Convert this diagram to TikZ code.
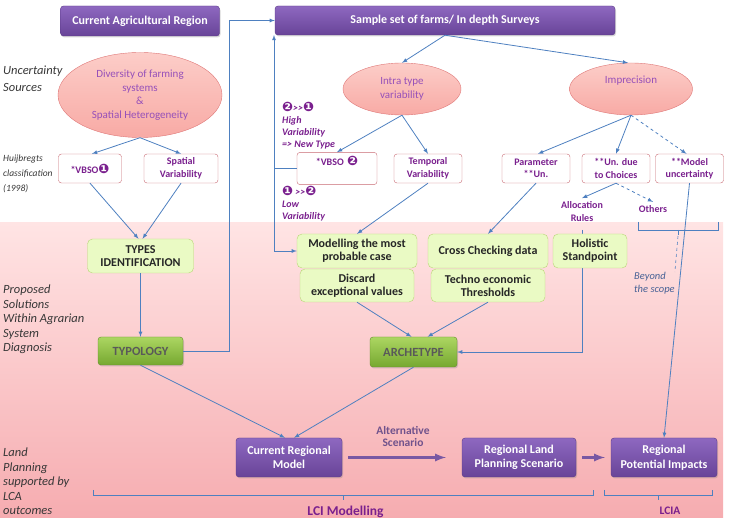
\documentclass[tikz,border=0pt]{standalone}
\usepackage{fontspec}
\setmainfont{Carlito}
\newfontfamily\dingfont{DejaVu Sans}
\usetikzlibrary{arrows, shapes, shadows, calc}
\definecolor{violettop}{RGB}{142,104,192}
\definecolor{violetbot}{RGB}{104,68,152}
\definecolor{violetline}{RGB}{90,58,135}
\definecolor{salmonfill}{RGB}{248,170,165}
\definecolor{salmontop}{RGB}{252,205,200}
\definecolor{salmonline}{RGB}{222,118,118}
\definecolor{plum}{RGB}{122,32,142}
\definecolor{lilac}{RGB}{150,80,185}
\definecolor{linkblue}{RGB}{78,128,192}
\definecolor{leaffill}{RGB}{234,250,196}
\definecolor{leafline}{RGB}{184,214,118}
\definecolor{olivetop}{RGB}{172,214,98}
\definecolor{olivebot}{RGB}{118,168,48}
\definecolor{oliveline}{RGB}{98,140,40}
\definecolor{boxred}{RGB}{200,104,114}
\definecolor{pinktop}{RGB}{255,228,228}
\definecolor{pinkbot}{RGB}{246,172,176}
\definecolor{greylab}{RGB}{55,55,55}
\definecolor{scopeblue}{RGB}{72,98,150}
\definecolor{altgrey}{RGB}{112,82,140}
\newcommand{\dnum}[1]{{\dingfont\fontsize{13}{12}\selectfont\color{plum}#1}}

\begin{document}
\begin{tikzpicture}[x=1pt, y=-1pt]
	\tikzstyle{region}=[rectangle, rounded corners=3pt, draw=violetline, top color=violettop, bottom color=violetbot, text=white, align=center, font=\fontsize{12}{14.5}\selectfont\bfseries, drop shadow={opacity=0.3, shadow xshift=1pt, shadow yshift=-1.5pt}]
	\tikzstyle{source}=[ellipse, draw=salmonline, top color=salmontop, bottom color=salmonfill, text=lilac, align=center, inner sep=0pt, font=\fontsize{11}{13.5}\selectfont]
	\tikzstyle{class}=[rectangle, rounded corners=3pt, draw=boxred, fill=white, text=plum, align=center, minimum height=29, font=\fontsize{10}{12.5}\selectfont\bfseries]
	\tikzstyle{solution}=[rectangle, rounded corners=5pt, draw=leafline, fill=leaffill, text=black!85, align=center, font=\fontsize{12}{13}\selectfont\bfseries]
	\tikzstyle{result}=[rectangle, rounded corners=3pt, draw=oliveline, top color=olivetop, bottom color=olivebot, text=black!65, align=center, font=\fontsize{12.5}{13}\selectfont\bfseries, drop shadow={opacity=0.3, shadow xshift=1pt, shadow yshift=-1.5pt}]
	\tikzstyle{note}=[text=plum, align=left, anchor=north west, inner sep=0pt, font=\fontsize{10}{12}\selectfont\bfseries\itshape]
	\tikzstyle{sidelab}=[text=greylab, align=left, anchor=north west, inner sep=0pt, font=\fontsize{12.5}{16.5}\selectfont\itshape]
	\tikzstyle{connect}=[-latex, linkblue, line width=0.8pt]
	\tikzstyle{link}=[linkblue, line width=0.8pt]
	\tikzstyle{flow}=[-latex, violettop!85!black, line width=2.6pt]
	\useasboundingbox (0,0) rectangle (729,518);
	% pink band of solutions
	\shade[top color=pinktop, bottom color=pinkbot] (0,223) rectangle (723,518);
	% side labels
	\node[sidelab] (lab-unc) at (3,66) {Uncertainty\\Sources};
	\node[sidelab, font=\fontsize{9.5}{15}\selectfont\itshape] (lab-huij) at (3,155) {Huijbregts\\classification\\(1998)};
	\node[sidelab, font=\fontsize{12.5}{14.5}\selectfont\itshape] (lab-prop) at (3,285) {Proposed\\Solutions\\Within Agrarian\\System\\Diagnosis};
	\node[sidelab, font=\fontsize{12.5}{14.5}\selectfont\itshape] (lab-land) at (3,448) {Land\\Planning\\supported by\\LCA\\outcomes};
	% top row
	\node[region, minimum width=159, minimum height=30] (region) at (140,21) {Current Agricultural Region};
	\node[region, minimum width=340, minimum height=29] (sample) at (445,20.5) {Sample set of farms/ In depth Surveys};
	% uncertainty sources
	\node[source, minimum width=164, minimum height=85] (diversity) at (140,95) {Diversity of farming\\systems\\\&\\Spatial Heterogeneity};
	\node[source, minimum width=118, minimum height=52] (intra) at (402,89) {Intra type\\variability};
	\node[source, minimum width=123, minimum height=52] (imprecision) at (631,89) {Imprecision\\[6pt]};
	% classification
	\node[class, minimum width=63] (vbsoone) at (90,168.5) {*VBSO\dnum{❶}};
	\node[class, minimum width=74] (spatial) at (181,168.5) {Spatial\\Variability};
	\node[class, minimum width=80] (vbsotwo) at (337,168.5) {*VBSO\,\,\dnum{❷}\\\strut};
	\node[class, minimum width=68] (temporal) at (428,168.5) {Temporal\\Variability};
	\node[class, minimum width=68] (parameter) at (536,168.5) {Parameter\\**Un.};
	\node[class, minimum width=68] (choices) at (616,168.5) {**Un. due\\to Choices};
	\node[class, minimum width=68] (model) at (689.5,168.5) {**Model\\uncertainty};
	\node[note] (high) at (282,102) {\dnum{❷}>{}>\dnum{❶}\\High\\Variability\\=> New Type};
	\node[note] (low) at (282,186) {\dnum{❶} >{}>\dnum{❷}\\Low\\Variability};
	\node[text=plum, align=center, font=\fontsize{10}{12.5}\selectfont\bfseries] (alloc) at (582,211.5) {Allocation\\Rules};
	\node[text=plum, font=\fontsize{10}{12}\selectfont\bfseries] (others) at (653,209) {Others};
	% solutions
	\node[solution, minimum width=106, minimum height=34] (types) at (140.5,256) {TYPES\\IDENTIFICATION};
	\node[solution, minimum width=120, minimum height=34] (modelling) at (357,251) {Modelling the most\\probable case};
	\node[solution, minimum width=114, minimum height=33] (discard) at (357,285.5) {Discard\\exceptional values};
	\node[solution, minimum width=120, minimum height=34] (crosscheck) at (488,251) {Cross Checking data};
	\node[solution, minimum width=114, minimum height=33] (techno) at (488,285.5) {Techno economic\\Thresholds};
	\node[result, minimum width=85, minimum height=28] (typology) at (140.5,351) {TYPOLOGY};
	\node[result, minimum width=87, minimum height=30] (archetype) at (413.5,352) {ARCHETYPE};
	% holistic line runs behind its box
	\draw[connect, shorten <=5pt] (alloc.south) |- (archetype.east);
	\node[solution, minimum width=74, minimum height=34] (holistic) at (590,251) {Holistic\\Standpoint};
	% land planning
	\node[region, minimum width=106, minimum height=39] (current) at (289,457.5) {Current Regional\\Model};
	\node[region, minimum width=114, minimum height=39] (landplan) at (519,457.5) {Regional Land\\Planning Scenario};
	\node[region, minimum width=106, minimum height=39] (impacts) at (664,457.5) {Regional\\Potential Impacts};
	\node[text=altgrey, align=center, font=\fontsize{11.5}{13}\selectfont\bfseries] (altscen) at (403,436.5) {Alternative\\Scenario};
	\node[text=scopeblue, align=left, anchor=north west, inner sep=0pt, font=\fontsize{10.5}{13}\selectfont\itshape] (beyond) at (634,272) {Beyond\\the scope};
	\node[text=plum, anchor=base, font=\fontsize{13.5}{14}\selectfont\bfseries] (lci) at (345.5,515.5) {LCI Modelling};
	\node[text=plum, font=\fontsize{11.5}{13}\selectfont\bfseries] (lcia) at (670,510.5) {LCIA};
	% feedback loop beside VBSO 2
	\coordinate (fb-mid) at (274,168.5);
	\coordinate (fb-low) at (274,251);
	\coordinate (fb-top) at (274,35);
	\coordinate (typ-turn) at (229,351);
	\draw[link] (vbsotwo.west) -- (fb-mid);
	\draw[connect] (fb-low) -- (fb-top);
	\draw[connect] (fb-low) -- (modelling.west);
	\draw[connect] (typology.east) -- (typ-turn) |- (sample.west);
	% brackets
	\draw[link, line width=0.6pt] (638,222) -- (638,230) -- (718,230) -- (718,222);
	\draw[link, line width=0.6pt] (678,230) -- (678,235);
	\draw[link, dashed, line width=0.6pt] (678,236) -- (beyond.north east);
	\draw[link, line width=0.6pt] (93,490) -- (93,495.5) -- (593,495.5) -- (593,490);
	\draw[link, line width=0.6pt] (343,495.5) -- (343,500);
	\draw[link, line width=0.6pt] (604,490) -- (604,495.5) -- (712,495.5) -- (712,490);
	\draw[link, line width=0.6pt] (658,495.5) -- (658,500);
	\path (sample.south) edge [connect] (intra.north)
	(sample.south) edge [connect] ($(imprecision.north)+(-3,0)$)
	(diversity.south) edge [connect] ($(vbsoone.north)+(2,0)$)
	(diversity.south) edge [connect] (spatial.north)
	(intra.south) edge [connect] (vbsotwo.north)
	(intra.south) edge [connect] (temporal.north)
	(imprecision.south) edge [connect] ($(parameter.north)+(2,0)$)
	(imprecision.south) edge [connect] (choices.north)
	(imprecision.south) edge [connect, dashed] ($(model.north)+(-3,0)$)
	(choices.south) edge [connect] (alloc.north)
	(choices.south) edge [connect, dashed] (others.north)
	(vbsoone.south) edge [connect] ($(types.north)+(-2,0)$)
	(spatial.south) edge [connect] ($(types.north)+(2,0)$)
	(types.south) edge [connect] (typology.north)
	(temporal.south) edge [connect] (modelling.north)
	(parameter.south) edge [connect] (crosscheck.north)
	(discard.south) edge [connect] ($(archetype.north)+(-2,0)$)
	(techno.south) edge [connect] ($(archetype.north)+(14,0)$)
	(typology.south) edge [connect] ($(current.north)+(-4,0)$)
	(archetype.south) edge [connect] ($(current.north)+(5,0)$)
	(model.south) edge [connect] (impacts.north);
	\draw[flow] (current.east) ++(6,0) coordinate (cur-out) -- ($(landplan.west)+(-16,0)$);
	\draw[flow] (landplan.east) ++(6,0) -- ($(impacts.west)+(-6,0)$);
\end{tikzpicture}
\end{document}
